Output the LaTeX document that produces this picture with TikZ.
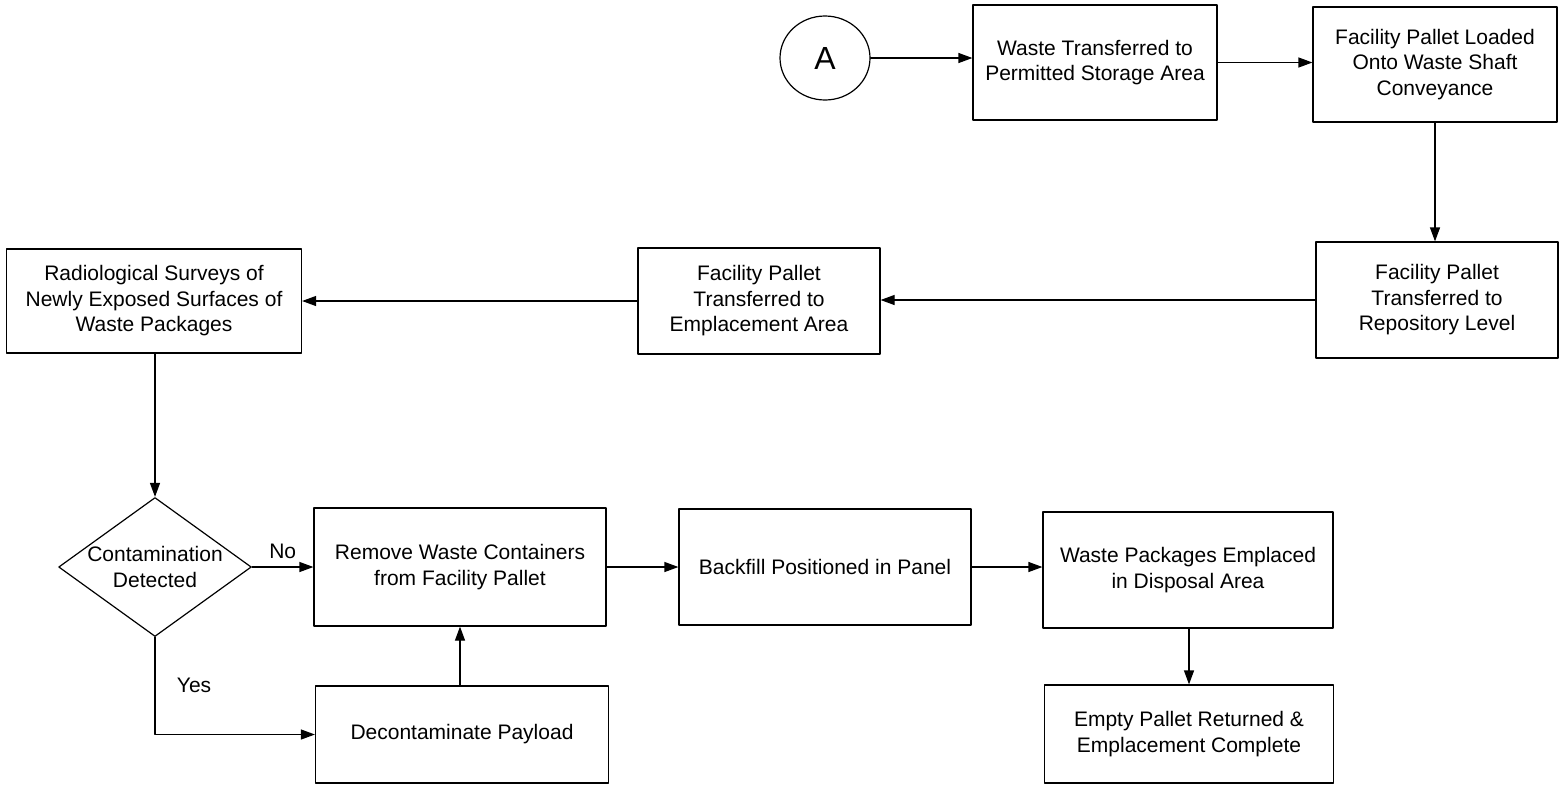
\documentclass[tikz,border=0pt]{standalone}
\usepackage{fontspec}
\setmainfont{Liberation Sans}
\usetikzlibrary{arrows.meta,shapes.geometric}

\begin{document}
\begin{tikzpicture}[line cap=round,line join=round,>={Triangle[length=14pt,width=10pt]},x=1pt,y=-1pt,
	box/.style={draw,line width=1.2pt,align=center,inner sep=2pt,font=\fontsize{21}{25.5}\selectfont},
	flow/.style={->,line width=1.2pt},
	lbl/.style={font=\fontsize{21}{25.5}\selectfont}]%flowchart
	\useasboundingbox (0,0) rectangle (1562,788);
	\node[draw,line width=1.2pt,ellipse,minimum width=90pt,minimum height=84pt,font=\fontsize{32}{32}\selectfont] (circA) at (825,58) {A};
	\node[box,minimum width=244pt,minimum height=115pt] (wastetrans) at (1095,62.5) {Waste Transferred to\\Permitted Storage Area};
	\node[box,minimum width=244pt,minimum height=115pt] (palletload) at (1435,64.5) {Facility Pallet Loaded\\Onto Waste Shaft\\Conveyance};
	\node[box,minimum width=242pt,minimum height=116pt] (palletrepo) at (1437,300) {Facility Pallet\\Transferred to\\Repository Level};
	\node[box,minimum width=242pt,minimum height=106pt] (palletemp) at (759,301) {Facility Pallet\\Transferred to\\Emplacement Area};
	\node[box,minimum width=295pt,minimum height=104pt] (radsurvey) at (154,301) {Radiological Surveys of\\Newly Exposed Surfaces of\\Waste Packages};
	\node[draw,line width=1.2pt,diamond,aspect=1.4,inner sep=0pt,minimum width=192pt,minimum height=139pt,align=center,font=\fontsize{21}{25.5}\selectfont] (contam) at (155,567) {Contamination\\Detected};
	\node[box,minimum width=292pt,minimum height=118pt] (removewaste) at (460,567) {Remove Waste Containers\\from Facility Pallet};
	\node[box,minimum width=293pt,minimum height=97pt] (decon) at (462,734.5) {Decontaminate Payload};
	\node[box,minimum width=292pt,minimum height=116pt] (backfill) at (825,567) {Backfill Positioned in Panel};
	\node[box,minimum width=290pt,minimum height=116pt] (wasteemp) at (1188,570) {Waste Packages Emplaced\\in Disposal Area};
	\node[box,minimum width=289pt,minimum height=98pt] (emptyret) at (1189,734) {Empty Pallet Returned \&\\Emplacement Complete};
	\draw[flow] (circA.east) -- (circA.east -| wastetrans.west);
	\draw[flow] (wastetrans.east) -- (wastetrans.east -| palletload.west);
	\draw[flow] (palletload.south) -- (palletload.south |- palletrepo.north);
	\draw[flow] (palletrepo.west) -- (palletrepo.west -| palletemp.east);
	\draw[flow] (palletemp.west) -- (palletemp.west -| radsurvey.east);
	\draw[flow] (radsurvey.south -| contam.north) -- (contam.north);
	\draw[flow] (contam.east) -- node[lbl,above=4pt] (lblno) {No} (contam.east -| removewaste.west);
	\draw[flow] (contam.south) |- node[lbl,pos=0.25,right=18pt] (lblyes) {Yes} (decon.west);
	\draw[flow] (removewaste.south |- decon.north) -- (removewaste.south);
	\draw[flow] (removewaste.east) -- (removewaste.east -| backfill.west);
	\draw[flow] (backfill.east) -- (backfill.east -| wasteemp.west);
	\draw[flow] (wasteemp.south -| emptyret.north) -- (emptyret.north);
\end{tikzpicture}
\end{document}
